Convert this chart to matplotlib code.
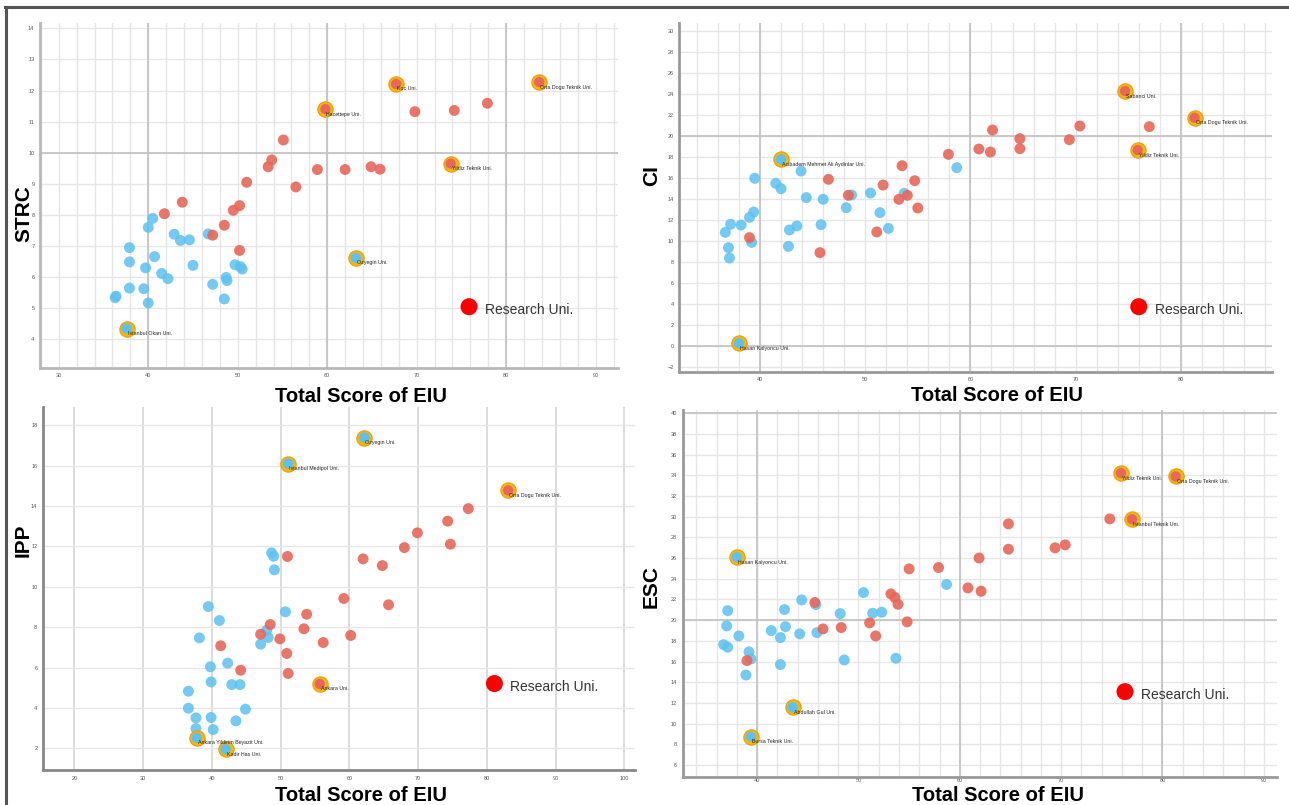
import numpy as np
import matplotlib
matplotlib.use("Agg")
import matplotlib.pyplot as plt
from matplotlib.lines import Line2D

plt.rcParams['font.family'] = ['Liberation Sans', 'DejaVu Sans']

# ---------------- data ----------------
# STRC vs Total Score of EIU
strc_red_x = [69.8, 74.2, 77.9, 55.1, 53.8, 53.4, 58.9, 62.0, 64.9, 65.9, 51.0, 56.5,
              43.8, 41.8, 50.2, 49.5, 48.5, 47.2, 50.2]
strc_red_y = [11.32, 11.36, 11.59, 10.41, 9.77, 9.55, 9.46, 9.46, 9.55, 9.47, 9.05, 8.90,
              8.41, 8.04, 8.30, 8.15, 7.67, 7.35, 6.86]
strc_blue_x = [40.5, 40.0, 42.9, 43.6, 44.6, 46.7, 37.9, 37.9, 40.7, 39.7, 41.5, 42.2,
               45.0, 49.7, 50.3, 50.5, 48.7, 48.8, 47.2, 48.5, 37.9, 39.5, 36.4, 36.3, 40.0]
strc_blue_y = [7.89, 7.60, 7.38, 7.18, 7.20, 7.39, 6.95, 6.49, 6.66, 6.30, 6.12, 5.95,
               6.38, 6.40, 6.34, 6.26, 5.99, 5.89, 5.77, 5.30, 5.65, 5.63, 5.39, 5.34, 5.17]
strc_hl_names = ["Koc Uni.", "Orta Dogu Teknik Uni.", "Hacettepe Uni.", "Yildiz Teknik Uni.",
                 "Ozyegin Uni.", "Istanbul Okan Uni."]
strc_hl_x = [67.7, 83.7, 59.8, 73.8, 63.2, 37.6]
strc_hl_y = [12.21, 12.27, 11.40, 9.65, 6.62, 4.35]
strc_hl_group = ["r", "r", "r", "r", "b", "b"]
strc_research = (75.85, 5.05)

# CI
ci_red_x = [77.0, 70.4, 69.4, 62.1, 64.7, 64.7, 60.8, 61.9, 57.9, 53.5, 46.5, 51.7,
            54.7, 48.4, 54.0, 53.2, 55.0, 51.1, 39.0, 45.7]
ci_red_y = [20.86, 20.92, 19.62, 20.54, 19.71, 18.76, 18.73, 18.44, 18.22, 17.14, 15.84,
            15.30, 15.71, 14.32, 14.32, 13.94, 13.11, 10.83, 10.29, 8.86]
ci_blue_x = [58.7, 43.9, 39.5, 41.5, 42.0, 44.4, 46.0, 48.7, 50.5, 53.7, 48.2, 51.4,
             52.2, 45.8, 43.5, 42.8, 42.7, 39.4, 39.0, 38.2, 37.2, 36.7, 39.2, 37.0, 37.1]
ci_blue_y = [16.95, 16.63, 15.94, 15.46, 14.95, 14.10, 13.94, 14.35, 14.54, 14.51, 13.14,
             12.67, 11.17, 11.52, 11.40, 11.02, 9.46, 12.73, 12.22, 11.49, 11.56, 10.79,
             9.84, 9.33, 8.35]
ci_hl_names = ["Sabanci Uni.", "Orta Dogu Teknik Uni.", "Yildiz Teknik Uni.",
               "Acibadem Mehmet Ali Aydinlar Uni.", "Hasan Kalyoncu Uni."]
ci_hl_x = [74.7, 81.3, 75.9, 42.0, 38.0]
ci_hl_y = [24.25, 21.71, 18.63, 17.75, 0.22]
ci_hl_group = ["r", "r", "r", "b", "b"]
ci_research = (76.0, 3.71)

# IPP
ipp_red_x = [77.3, 74.3, 69.9, 74.7, 68.0, 62.0, 64.8, 51.0, 59.2, 65.7, 53.8, 48.5,
             53.4, 47.1, 49.9, 60.2, 56.2, 41.3, 50.9, 44.2, 51.1]
ipp_red_y = [13.87, 13.25, 12.67, 12.11, 11.94, 11.38, 11.05, 11.50, 9.42, 9.11, 8.64,
             8.13, 7.92, 7.65, 7.42, 7.59, 7.24, 7.08, 6.70, 5.87, 5.71]
ipp_blue_x = [48.7, 49.0, 49.1, 39.5, 50.7, 41.1, 38.2, 48.0, 48.2, 47.1, 39.8, 42.3,
              39.9, 42.9, 44.1, 36.6, 36.6, 44.9, 37.7, 39.9, 43.5, 37.7, 40.2]
ipp_blue_y = [11.68, 11.51, 10.84, 9.02, 8.76, 8.33, 7.47, 7.85, 7.49, 7.16, 6.04, 6.22,
              5.29, 5.16, 5.16, 4.83, 3.99, 3.94, 3.51, 3.53, 3.36, 2.98, 2.93]
ipp_hl_names = ["Ozyegin Uni.", "Istanbul Medipol Uni.", "Orta Dogu Teknik Uni.",
                "Ankara Uni.", "Ankara Yildirim Beyazit Uni.", "Kadir Has Uni."]
ipp_hl_x = [62.2, 51.1, 83.1, 55.7, 37.8, 42.0]
ipp_hl_y = [17.39, 16.10, 14.77, 5.19, 2.52, 1.96]
ipp_hl_group = ["b", "b", "r", "r", "b", "b"]
ipp_research = (81.1, 5.21)

# ESC
esc_red_x = [74.8, 64.8, 64.8, 69.4, 70.4, 61.9, 55.0, 57.9, 60.8, 62.1, 53.2, 53.6,
             53.9, 45.7, 54.8, 51.1, 48.3, 46.5, 51.7, 39.0]
esc_red_y = [29.78, 29.30, 26.85, 26.98, 27.27, 26.00, 24.95, 25.08, 23.11, 22.79, 22.53,
             22.18, 21.53, 21.70, 19.83, 19.73, 19.28, 19.15, 18.47, 16.09]
esc_blue_x = [58.7, 50.5, 44.4, 45.8, 42.7, 37.1, 48.2, 51.4, 52.3, 37.0, 42.8, 41.4,
              38.2, 42.3, 44.2, 45.9, 36.7, 37.1, 39.2, 39.4, 42.3, 48.6, 53.7, 38.9]
esc_blue_y = [23.44, 22.66, 21.95, 21.50, 21.02, 20.92, 20.63, 20.66, 20.76, 19.44, 19.37,
              18.99, 18.47, 18.31, 18.67, 18.79, 17.63, 17.38, 16.93, 16.25, 15.70, 16.15,
              16.31, 14.70]
esc_hl_names = ["Yildiz Teknik Uni.", "Orta Dogu Teknik Uni.", "Istanbul Teknik Uni.",
                "Hasan Kalyoncu Uni.", "Abdullah Gul Uni.", "Bursa Teknik Uni."]
esc_hl_x = [75.9, 81.3, 77.0, 38.0, 43.5, 39.4]
esc_hl_y = [34.20, 33.88, 29.75, 26.08, 11.58, 8.74]
esc_hl_group = ["r", "r", "r", "b", "b", "b"]
esc_research = (76.3, 13.09)

# ---------------- styling ----------------
W, H = 1289, 805
RED = "#E8675A"
BLUE = "#5CC1F0"
GOLD = "#F4B400"
LIGHT = "#e6e6e6"
DARK = "#c4c4c4"

fig = plt.figure(figsize=(W / 100, H / 100), dpi=100)


def make_axes(left, right, top, bottom):
    # pixel box -> figure fraction
    return fig.add_axes([left / W, 1 - bottom / H, (right - left) / W, (bottom - top) / H])


def draw_panel(ax, red_x, red_y, blue_x, blue_y, hl_names, hl_x, hl_y, hl_group, research,
               ylabel, spine_color, ylab_pos, xlab_pos, xpad=4):
    for s in ["top", "right"]:
        ax.spines[s].set_visible(False)
    for s in ["left", "bottom"]:
        ax.spines[s].set_color(spine_color)
        ax.spines[s].set_linewidth(2)
    ax.tick_params(which="both", length=0, labelsize=4, labelcolor="#555555", pad=4)
    ax.tick_params(axis="x", which="both", pad=xpad)
    ax.set_axisbelow(True)

    ax.scatter(blue_x, blue_y, s=62, color=BLUE, alpha=0.85, edgecolors="none", zorder=3)
    ax.scatter(red_x, red_y, s=62, color=RED, alpha=0.9, edgecolors="none", zorder=3)
    cols = [RED if g == "r" else BLUE for g in hl_group]
    ax.scatter(hl_x, hl_y, s=122, color=GOLD, edgecolors="#F09A00", linewidths=0.8,
               alpha=0.95, zorder=4)
    ax.scatter(hl_x, hl_y, s=55, color=cols, edgecolors="none", zorder=5)
    for name, x, y in zip(hl_names, hl_x, hl_y):
        ax.annotate(name, (x, y), xytext=(1, -5), textcoords="offset pixels",
                    fontsize=3.8, color="#222222", ha="left", va="center", zorder=6)

    ax.scatter([research[0]], [research[1]], s=150, color="#FF0000", edgecolors="none", zorder=5)
    ax.annotate("Research Uni.", research, xytext=(16, -3), textcoords="offset pixels",
                fontsize=10, color="#333333", ha="left", va="center")

    ax.set_ylabel(ylabel, fontsize=15, fontweight="bold")
    ax.yaxis.set_label_coords(*ylab_pos)
    ax.set_xlabel("Total Score of EIU", fontsize=14.5, fontweight="bold", va="center")
    ax.xaxis.set_label_coords(*xlab_pos)


# --- STRC (top left)
ax1 = make_axes(40, 618, 22.7, 367.7)
ax1.set_xlim(27.9, 92.5)
ax1.set_ylim(3.09, 14.18)
ax1.set_xticks(np.arange(30, 91, 10))
ax1.set_xticks(np.arange(28, 93, 2), minor=True)
ax1.set_yticks(np.arange(4, 15, 1))
ax1.grid(which="both", color=LIGHT, lw=1)
for v in [40, 60, 80]:
    ax1.axvline(v, color=DARK, lw=1.3, zorder=1)
ax1.axhline(10, color=DARK, lw=1.3, zorder=1)
draw_panel(ax1, strc_red_x, strc_red_y, strc_blue_x, strc_blue_y, strc_hl_names, strc_hl_x,
           strc_hl_y, strc_hl_group, strc_research, "STRC", "#b8b8b8",
           (-0.012, 0.448), (0.555, -0.084))

# --- CI (top right)
ax2 = make_axes(679.3, 1272.4, 22.7, 371.7)
ax2.set_xlim(32.33, 88.7)
ax2.set_ylim(-2.48, 30.76)
ax2.set_xticks(np.arange(40, 81, 10))
ax2.set_xticks(np.arange(34, 89, 2), minor=True)
ax2.set_yticks(np.arange(-2, 31, 2))
ax2.grid(which="both", color=LIGHT, lw=1)
for v in [40, 60, 80]:
    ax2.axvline(v, color=DARK, lw=1.3, zorder=1)
for v in [0, 20]:
    ax2.axhline(v, color=DARK, lw=1.3, zorder=1)
draw_panel(ax2, ci_red_x, ci_red_y, ci_blue_x, ci_blue_y, ci_hl_names, ci_hl_x, ci_hl_y,
           ci_hl_group, ci_research, "CI", "#999999",
           (-0.031, 0.561), (0.535, -0.069))

# --- IPP (bottom left)
ax3 = make_axes(42.9, 634.7, 407, 770)
ax3.set_xlim(15.44, 101.5)
ax3.set_ylim(0.93, 18.9)
ax3.set_xticks(np.arange(20, 101, 10))
ax3.set_yticks(np.arange(2, 19, 2))
ax3.grid(axis="y", color=LIGHT, lw=1)
ax3.grid(axis="x", color="#d2d2d2", lw=1.1)
draw_panel(ax3, ipp_red_x, ipp_red_y, ipp_blue_x, ipp_blue_y, ipp_hl_names, ipp_hl_x,
           ipp_hl_y, ipp_hl_group, ipp_research, "IPP", "#888888",
           (-0.017, 0.634), (0.5375, -0.071))

# --- ESC (bottom right)
ax4 = make_axes(682.6, 1277.4, 410, 776.7)
ax4.set_xlim(32.65, 91.34)
ax4.set_ylim(4.87, 40.3)
ax4.set_xticks(np.arange(40, 91, 10))
ax4.set_xticks(np.arange(34, 92, 2), minor=True)
ax4.set_yticks(np.arange(6, 41, 2))
ax4.grid(which="both", color=LIGHT, lw=1)
for v in [40, 60, 80]:
    ax4.axvline(v, color=DARK, lw=1.3, zorder=1)
for v in [20, 40]:
    ax4.axhline(v, color=DARK, lw=1.3, zorder=1)
draw_panel(ax4, esc_red_x, esc_red_y, esc_blue_x, esc_blue_y, esc_hl_names, esc_hl_x,
           esc_hl_y, esc_hl_group, esc_research, "ESC", "#999999",
           (-0.037, 0.520), (0.530, -0.050), xpad=1)

# outer frame (top and left edges)
fig.add_artist(Line2D([5 / W, 1], [1 - 7.5 / H, 1 - 7.5 / H], color="#555555", lw=2.2))
fig.add_artist(Line2D([6 / W, 6 / W], [0, 1 - 7.5 / H], color="#555555", lw=2.2))

fig.savefig("out.png", dpi=100)
